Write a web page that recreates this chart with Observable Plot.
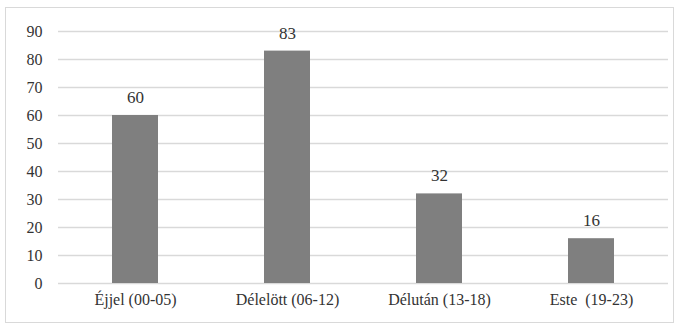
<!DOCTYPE html>
<html><head><meta charset="utf-8">
<script src="https://cdn.jsdelivr.net/npm/d3@7"></script>
<script src="https://cdn.jsdelivr.net/npm/@observablehq/plot@0.6"></script>
<style>
body{margin:0;background:#fff;font-family:"Liberation Serif",serif;}
svg text{font-family:"Liberation Serif",serif;}
</style>
</head><body>
<div id="wrap" style="position:relative;width:680px;height:328px"><div id="chart"></div><div style="position:absolute;left:5px;top:7px;width:669px;height:316px;border:1.5px solid #d9d9d9;box-sizing:border-box;pointer-events:none"></div></div>
<script>
const categories = ["Éjjel (00-05)", "Délelött (06-12)", "Délután (13-18)", "Este  (19-23)"];
const values = [60, 83, 32, 16];
const yTicks = [0,10,20,30,40,50,60,70,80,90];
const data = categories.map((c,i)=>({cat:c, v:values[i]}));
const chart = Plot.plot({
  width:680, height:328,
  marginLeft:58, marginRight:12, marginTop:31, marginBottom:45,
  style:{fontFamily:"serif", fontSize:"16px", color:"#333", background:"transparent"},
  x:{domain:categories, padding:0.7, paddingOuter:0.35, label:null, tickSize:0, tickPadding:10},
  y:{domain:[0,90], ticks:yTicks, label:null, tickSize:0, tickPadding:16, tickFormat:d=>String(d)},
  marks:[
    Plot.gridY(yTicks,{stroke:"#d9d9d9", strokeOpacity:1, strokeWidth:1.5}),
    Plot.barY(data,{x:"cat", y:"v", fill:"#7f7f7f"}),
    Plot.text(data,{x:"cat", y:"v", text:d=>String(d.v), dy:-18, fontSize:17, fontFamily:"serif", fill:"#333"})
  ]
});
chart.setAttribute("font-family","serif");
chart.querySelectorAll("g").forEach(g=>{ if (g.getAttribute("font-family")) g.setAttribute("font-family","serif"); });
chart.querySelectorAll("text").forEach(t=>{ t.setAttribute("font-family","serif"); });
document.getElementById("chart").appendChild(chart);
</script>
</body></html>
